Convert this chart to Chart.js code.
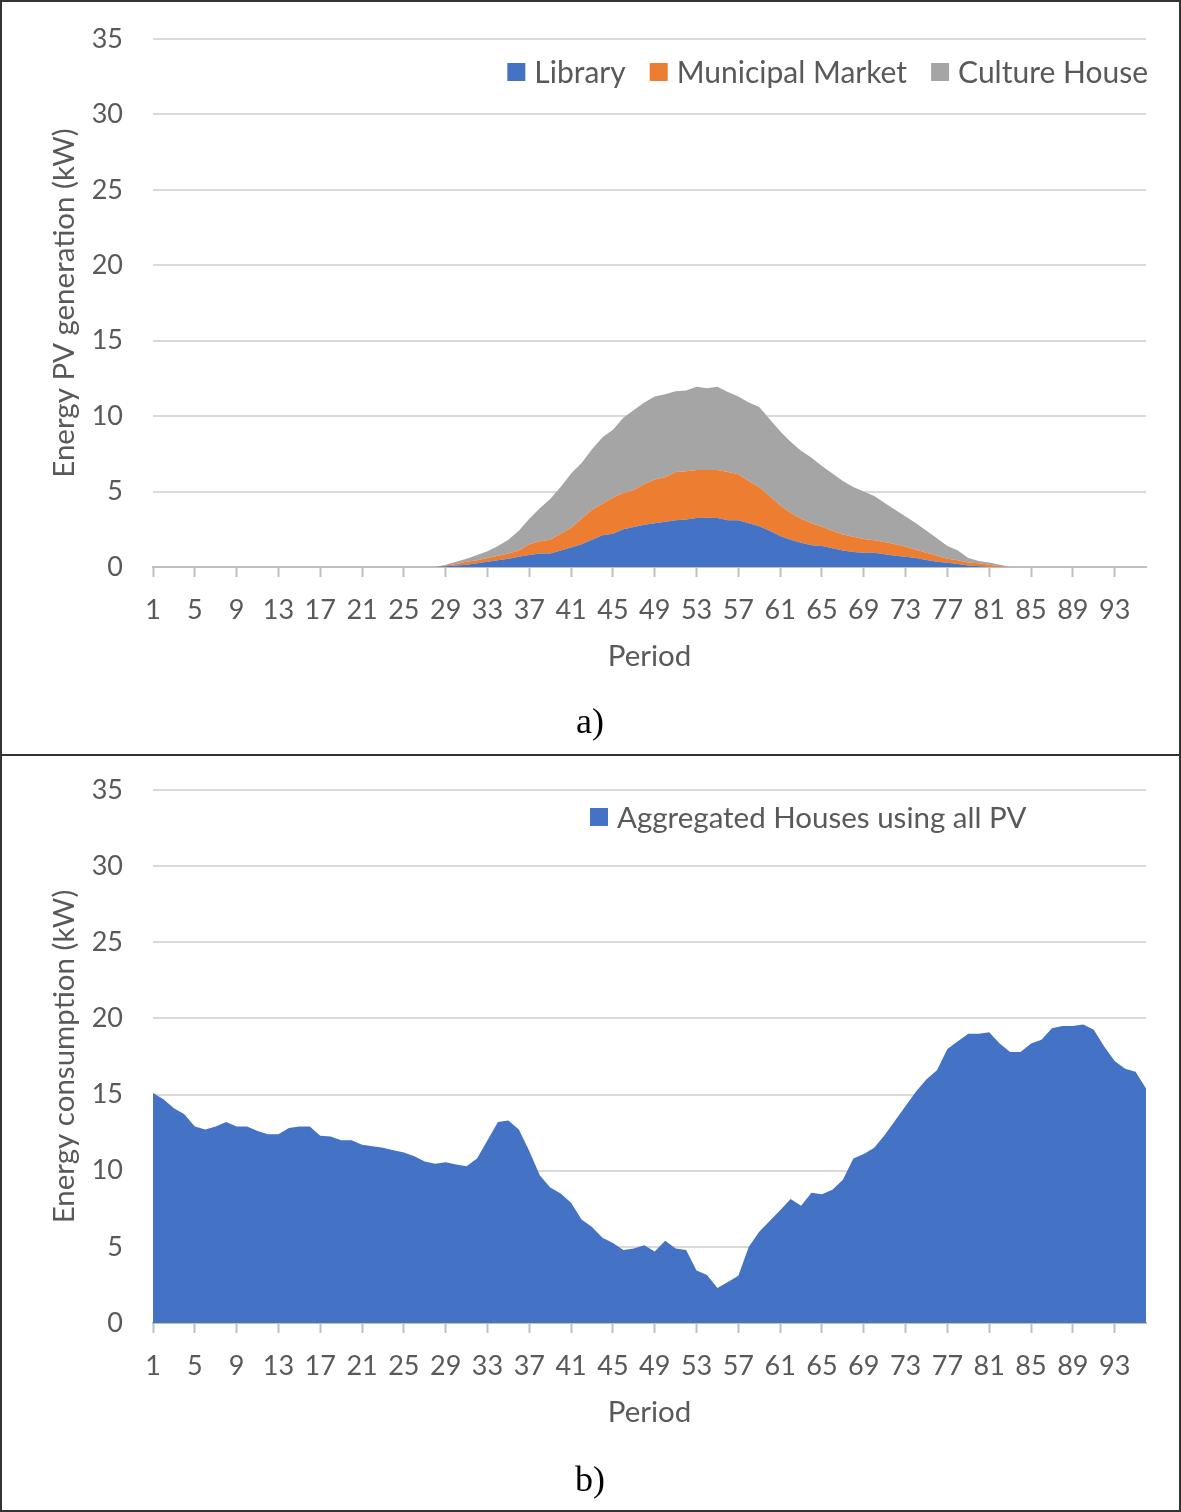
<!DOCTYPE html>
<html><head><meta charset="utf-8">
<script src="https://cdn.jsdelivr.net/npm/chart.js@4.4.1/dist/chart.umd.min.js"></script>
<style>
html,body{margin:0;padding:0;background:#fff;}
#page{position:relative;width:1181px;height:1512px;overflow:hidden;background:#fff;}
.cv{position:absolute;left:0;}
.frame{position:absolute;left:0;width:1177px;border:2px solid #333;pointer-events:none;}
.cap{position:absolute;left:590px;font-family:"Liberation Serif","Times New Roman",serif;font-size:36px;line-height:40px;color:#000;transform:translateX(-50%);}
</style></head>
<body><div id="page">
<canvas id="c1" class="cv" style="top:0" width="1181" height="756"></canvas>
<canvas id="c2" class="cv" style="top:756px" width="1181" height="756"></canvas>
<div class="frame" style="top:0;height:752px"></div>
<div class="frame" style="top:754px;height:754px"></div>
<div class="cap" style="top:701px">a)</div>
<div class="cap" style="top:1459px">b)</div>
</div>
<script>
// ---- data ----
const periods = Array.from({length: 96}, (_, i) => i + 1);
const seriesNames = ['Library', 'Municipal Market', 'Culture House'];
const consumptionName = 'Aggregated Houses using all PV';

// periods 1-28 are zero, periods 83-96 are zero
const zeros28 = [0,0,0,0,0,0,0,0,0,0,0,0,0,0,0,0,0,0,0,0,0,0,0,0,0,0,0,0];
const zeros14 = [0,0,0,0,0,0,0,0,0,0,0,0,0,0];
// periods 29..82
const libraryMid = [0.05,0.1,0.15,0.25,0.35,0.45,0.55,0.68,0.8,0.9,0.9,1.1,1.3,1.5,1.8,2.1,2.2,2.5,2.65,2.8,2.9,3.0,3.1,3.15,3.25,3.27,3.25,3.1,3.1,2.9,2.7,2.4,2.05,1.8,1.6,1.45,1.4,1.25,1.1,1.0,0.95,0.95,0.85,0.75,0.68,0.6,0.46,0.35,0.28,0.2,0.1,0.05,0,0];
const marketMid = [0.05,0.1,0.2,0.2,0.25,0.3,0.35,0.42,0.7,0.8,0.9,1.1,1.3,1.7,2.0,2.1,2.4,2.4,2.45,2.7,2.9,2.95,3.2,3.2,3.18,3.16,3.18,3.2,3.05,2.8,2.6,2.3,2.05,1.8,1.6,1.45,1.27,1.15,1.05,1.0,0.9,0.83,0.8,0.75,0.67,0.55,0.49,0.4,0.27,0.25,0.2,0.2,0.15,0.05];
const cultureMid = [0.05,0.15,0.2,0.35,0.45,0.65,0.9,1.3,1.7,2.2,2.7,3.1,3.6,3.7,4.0,4.4,4.5,5.0,5.3,5.4,5.5,5.5,5.35,5.35,5.52,5.42,5.52,5.3,5.15,5.2,5.3,5.1,4.9,4.7,4.5,4.35,4.03,3.8,3.55,3.3,3.15,2.92,2.6,2.3,2.0,1.75,1.45,1.15,0.85,0.65,0.3,0.15,0.15,0.1];
const library = zeros28.concat(libraryMid, zeros14);
const market = zeros28.concat(marketMid, zeros14);
const culture = zeros28.concat(cultureMid, zeros14);

const consumption = [15.1,14.7,14.1,13.7,12.9,12.7,12.9,13.2,12.9,12.9,12.6,12.4,12.4,12.8,12.9,12.9,12.3,12.25,12.0,12.0,11.7,11.6,11.5,11.35,11.2,10.95,10.6,10.45,10.55,10.4,10.3,10.8,12.0,13.2,13.3,12.7,11.3,9.7,8.9,8.5,7.9,6.8,6.3,5.6,5.25,4.8,4.9,5.1,4.7,5.4,4.9,4.8,3.45,3.15,2.3,2.7,3.1,5.0,6.0,6.7,7.4,8.15,7.7,8.55,8.45,8.75,9.4,10.8,11.1,11.5,12.35,13.3,14.25,15.2,16.0,16.6,18.0,18.5,19.0,19.0,19.1,18.35,17.8,17.8,18.35,18.6,19.35,19.5,19.5,19.6,19.25,18.15,17.2,16.7,16.5,15.4];

const yTicks = [0,5,10,15,20,25,30,35];

// ---- drawing ----
const FONT = 'Lato';
const TXT = '#595959';
const TICK_SIZE = 27;
const TITLE_SIZE = 29.5;

const boxLegend = {
  id: 'boxLegend',
  afterDraw(chart, args, o) {
    const ctx = chart.ctx;
    ctx.save();
    ctx.font = o.size + 'px ' + FONT;
    ctx.textBaseline = 'middle';
    ctx.textAlign = 'left';
    const items = chart.data.datasets.map(d => ({
      text: d.label, color: d.backgroundColor,
      w: o.box + o.gap + ctx.measureText(d.label).width
    }));
    const total = items.reduce((s, it) => s + it.w, 0) + o.itemGap * (items.length - 1);
    let x = o.align === 'right' ? o.x - total : o.x;
    for (const it of items) {
      ctx.fillStyle = it.color;
      ctx.fillRect(x, o.y - o.box / 2, o.box, o.box);
      ctx.fillStyle = TXT;
      ctx.fillText(it.text, x + o.box + o.gap, o.y + 1);
      x += it.w + o.itemGap;
    }
    ctx.restore();
  }
};

function makeChart(id, datasets, yTitle, legendOpts, padTop, stacked) {
  return new Chart(document.getElementById(id), {
    type: 'line',
    data: { labels: periods, datasets },
    plugins: [boxLegend],
    options: {
      responsive: false, animation: false, devicePixelRatio: 1,
      layout: { padding: { left: 0, right: 35, top: padTop, bottom: 0 } },
      elements: { point: { radius: 0 }, line: { borderWidth: 0, tension: 0 } },
      plugins: { legend: { display: false }, tooltip: { enabled: false }, boxLegend: legendOpts },
      scales: {
        x: {
          type: 'category', offset: false,
          grid: { drawOnChartArea: false, drawTicks: true, tickLength: 10, tickWidth: 2,
                  tickColor: c => (c.index % 4 === 0) ? '#bfbfbf' : 'rgba(0,0,0,0)' },
          border: { display: true, color: '#bfbfbf', width: 2 },
          ticks: { autoSkip: false, maxRotation: 0, minRotation: 0, padding: 17, color: TXT,
                   font: { family: FONT, size: TICK_SIZE },
                   callback: (v, i) => (i % 4 === 0) ? String(periods[i]) : '' },
          title: { display: true, text: 'Period', color: TXT, font: { family: FONT, size: TITLE_SIZE },
                   padding: { top: 0, bottom: 82 } },
          afterFit: s => { s.height = 756 - 567; s.paddingLeft = 0; s.paddingRight = 0; }
        },
        y: {
          stacked: stacked, min: 0, max: 35,
          afterBuildTicks: s => { s.ticks = yTicks.map(v => ({ value: v })); },
          grid: { color: '#d9d9d9', lineWidth: 2, drawTicks: false },
          border: { display: false },
          ticks: { padding: 30, color: TXT, font: { family: FONT, size: TICK_SIZE } },
          title: { display: true, text: yTitle, color: TXT, font: { family: FONT, size: TITLE_SIZE },
                   padding: { top: 47, bottom: 0 } },
          afterFit: s => { s.width = 153; s.paddingTop = 0; s.paddingBottom = 0; }
        }
      }
    }
  });
}

makeChart('c1', [
  { label: seriesNames[0], data: library, backgroundColor: '#4472c4', fill: 'origin' },
  { label: seriesNames[1], data: market, backgroundColor: '#ed7d31', fill: '-1' },
  { label: seriesNames[2], data: culture, backgroundColor: '#a5a5a5', fill: '-1' }
], 'Energy PV generation (kW)',
  { align: 'right', x: 1148, y: 72, box: 18, gap: 9, itemGap: 24, size: 30 }, 39, true);

makeChart('c2', [
  { label: consumptionName, data: consumption, backgroundColor: '#4472c4', fill: 'origin' }
], 'Energy consumption (kW)',
  { align: 'left', x: 590, y: 61, box: 18, gap: 9, itemGap: 24, size: 29.5 }, 34, false);
</script>
</body></html>
